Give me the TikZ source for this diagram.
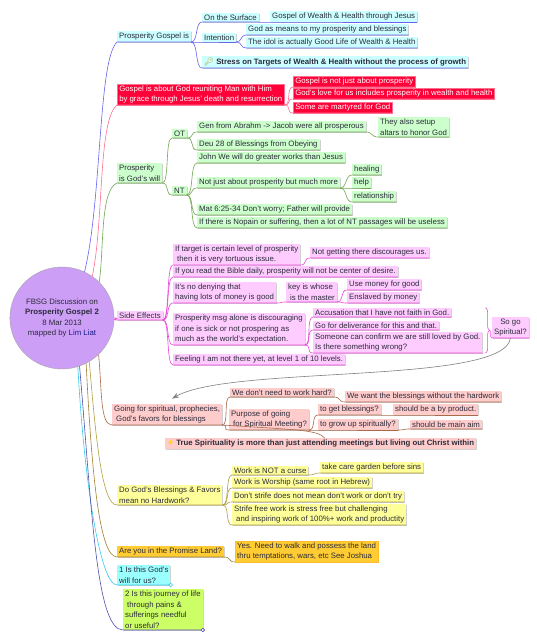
\documentclass[tikz,border=0pt]{standalone}
\usepackage{fontspec}
\setmainfont{Liberation Sans}
\newfontfamily\symfont{DejaVu Sans}
\newfontfamily\emojifont{Noto Emoji}
\usetikzlibrary{positioning,shapes.geometric,arrows.meta,decorations.pathreplacing,calc,shadows}

\definecolor{mmtext}{HTML}{2B2B3A}
\definecolor{liat}{HTML}{1A1A8C}
\definecolor{hubfill}{HTML}{CC9EF5}
\definecolor{bline}{HTML}{6464F0}
\definecolor{bbg}{HTML}{CCFFFF}
\definecolor{rline}{HTML}{FF7090}
\definecolor{rbg}{HTML}{FF0038}
\definecolor{gline}{HTML}{70A850}
\definecolor{gbg}{HTML}{CCFFCC}
\definecolor{mline}{HTML}{EE44DD}
\definecolor{mbg}{HTML}{FFCCFF}
\definecolor{brline}{HTML}{A86A4A}
\definecolor{brbg}{HTML}{FFCCCC}
\definecolor{yline}{HTML}{B0A040}
\definecolor{ybg}{HTML}{FFFF99}
\definecolor{oline}{HTML}{A08030}
\definecolor{obg}{HTML}{FFCC33}
\definecolor{cline}{HTML}{33CCEE}
\definecolor{cbg}{HTML}{99FFFF}
\definecolor{nline}{HTML}{5050A8}
\definecolor{lbg}{HTML}{CCFF66}
\definecolor{keygold}{HTML}{C89B1E}
\definecolor{stargold}{HTML}{FFD21E}

\newcommand{\mmsize}{\fontsize{7.8}{10.5}\selectfont}

\tikzset{
  mm/.style={anchor=south west, inner xsep=2pt, inner ysep=1.6pt, align=left,
    font=\mmsize, text=mmtext,
    drop shadow={shadow xshift=1pt, shadow yshift=-1pt, fill=black, opacity=0.18}},
  bnode/.style={mm, fill=bbg},
  rnode/.style={mm, fill=rbg, draw=rline, line width=0.5pt, text=white},
  gnode/.style={mm, fill=gbg},
  mnode/.style={mm, fill=mbg},
  brnode/.style={mm, fill=brbg},
  ynode/.style={mm, fill=ybg},
  onode/.style={mm, fill=obg},
  hub/.style={ellipse, draw=gray!70, fill=hubfill, minimum width=83pt,
    minimum height=102pt, inner sep=0pt, align=center, font=\mmsize, text=mmtext},
  lnk/.style={line width=0.6pt},
  bl/.style={lnk, draw=bline},
  rl/.style={lnk, draw=rline},
  gl/.style={lnk, draw=gline},
  ml/.style={lnk, draw=mline},
  brl/.style={lnk, draw=brline},
  yl/.style={lnk, draw=yline},
  ol/.style={lnk, draw=oline},
  cl/.style={lnk, draw=cline},
  nl/.style={lnk, draw=nline}
}

\begin{document}
\begin{tikzpicture}[x=1pt, y=-1pt]
  \useasboundingbox[fill=white] (0,0) rectangle (537,640);

  % centre topic
  \node[hub] (hub) at (62,318) {FBSG Discussion on\\\textbf{Prosperity Gospel 2}\\8 Mar 2013\\mapped by \textcolor{liat}{Lim Liat}};

  % blue branch
  \node[bnode] (pgi) at (117,42) {Prosperity Gospel is};
  \node[bnode] (surf) at (202,22) {On the Surface};
  \node[bnode] (gow) at (270,22) {Gospel of Wealth \& Health through Jesus};
  \node[bnode] (intn) at (202,42) {Intention};
  \node[bnode] (gmp) at (246,35) {God as means to my prosperity and blessings};
  \node[bnode] (idol) at (246,48) {The idol is actually Good Life of Wealth \& Health};
  \node[bnode] (stress) at (202,68) {{\emojifont\textcolor{keygold}{🔑}}\ \textbf{Stress on Targets of Wealth \& Health without the process of growth}};

  % red branch
  \node[rnode] (grm) at (117,105) {Gospel is about God reuniting Man with Him\\by grace through Jesus' death and resurrection};
  \node[rnode] (gnp) at (293,87) {Gospel is not just about prosperity};
  \node[rnode] (glove) at (293,99) {God's love for us includes prosperity in wealth and health};
  \node[rnode] (mart) at (293,113) {Some are martyred for God};

  % green branch
  \node[gnode] (pgw) at (117,183) {Prosperity\\is God's will};
  \node[gnode] (ot) at (172,138) {OT};
  \node[gnode] (gen) at (197,132) {Gen from Abrahm -> Jacob were all prosperous};
  \node[gnode] (alt) at (378,137) {They also setup\\altars to honor God};
  \node[gnode] (deu) at (197,150) {Deu 28 of Blessings from Obeying};
  \node[gnode] (nt) at (172,195) {NT};
  \node[gnode] (john) at (197,163) {John We will do greater works than Jesus};
  \node[gnode] (njp) at (197,188) {Not just about prosperity but much more};
  \node[gnode] (heal) at (352,175) {healing};
  \node[gnode] (help) at (352,188) {help};
  \node[gnode] (rel) at (352,202) {relationship};
  \node[gnode] (mat) at (197,215) {Mat 6:25-34 Don't worry; Father will provide};
  \node[gnode] (nop) at (197,228) {If there is Nopain or suffering, then a lot of NT passages will be useless};

  % magenta branch
  \node[mnode] (se) at (117,320) {Side Effects};
  \node[mnode] (tgt) at (173,265) {If target is certain level of prosperity\\\hspace{2pt}then it is very tortuous issue.};
  \node[mnode] (ngt) at (310,258) {Not getting there discourages us.};
  \node[mnode] (bib) at (173,277) {If you read the Bible daily, prosperity will not be center of desire.};
  \node[mnode] (deny) at (173,303) {It's no denying that\\having lots of money is good};
  \node[mnode] (key) at (286,302) {key is whose\\\hspace{2pt}is the master};
  \node[mnode] (umg) at (347,290) {Use money for good};
  \node[mnode] (ens) at (347,303) {Enslaved by money};
  \node[mnode] (msg) at (173,345) {Prosperity msg alone is discouraging\\if one is sick or not prospering as\\much as the world's expectation.};
  \node[mnode] (acc) at (313,317) {Accusation that I have not faith in God.};
  \node[mnode] (dlv) at (313,330) {Go for deliverance for this and that.};
  \node[mnode] (conf) at (313,353) {Someone can confirm we are still loved by God.\\Is there something wrong?};
  \node[mnode, align=center] (sogo) at (492,338) {So go\\Spiritual?};
  \node[mnode] (feel) at (173,365) {Feeling I am not there yet, at level 1 of 10 levels.};

  % brown branch
  \node[brnode] (gsp) at (112,425) {Going for spiritual, prophecies,\\\hspace{2pt}God's favors for blessings};
  \node[brnode] (wdn) at (230,397) {We don't need to work hard?};
  \node[brnode] (wwb) at (345,402) {We want the blessings without the hardwork};
  \node[brnode] (pur) at (229,430) {Purpose of going\\\hspace{2pt}for Spiritual Meeting?};
  \node[brnode] (tgb) at (318,415) {to get blessings?};
  \node[brnode] (byp) at (393,415) {should be a by product.};
  \node[brnode] (tgu) at (318,430) {to grow up spiritually?};
  \node[brnode] (mai) at (410,429) {should be main aim};
  \node[brnode] (tsp) at (165,449) {{\symfont\textcolor{stargold}{★}}\ \textbf{True Spirituality is more than just attending meetings but living out Christ within}};

  % yellow branch
  \node[ynode] (dgb) at (117,505) {Do God's Blessings \& Favors\\mean no Hardwork?};
  \node[ynode] (wnc) at (232,475) {Work is NOT a curse};
  \node[ynode] (tcg) at (320,473) {take care garden before sins};
  \node[ynode] (wiw) at (232,488) {Work is Worship (same root in Hebrew)};
  \node[ynode] (dsn) at (232,502) {Don't strife does not mean don't work or don't try};
  \node[ynode] (sfw) at (232,525) {Strife free work is stress free but challenging\\\hspace{2pt}and inspiring work of 100\%+ work and productity};

  % orange, cyan, lime branches
  \node[onode] (pl) at (117,557) {Are you in the Promise Land?};
  \node[onode, draw=obg!80!orange] (yes) at (235,562) {Yes. Need to walk and possess the land\\thru temptations, wars, etc See Joshua};
  \node[mm, fill=cbg] (q1) at (117,585) {1 Is this God's\\will for us?};
  \node[mm, fill=lbg] (q2) at (123,630) {2 Is this journey of life\\\hspace{2pt}through pains \&\\sufferings needful\\or useful?};

  % links from the centre
  \draw[bl] (hub.64) .. controls (102,200) and (98,60) .. (pgi.south west) -- (pgi.south east);
  \draw[rl] (hub.54) .. controls (104,220) and (98,120) .. (grm.south west) -- (grm.south east);
  \draw[gl] (hub.44) .. controls (104,250) and (100,190) .. (pgw.south west) -- (pgw.south east);
  \draw[ml] (hub.east) .. controls +(8,0) and +(-8,0) .. (se.south west) -- (se.south east);
  \draw[brl] (hub.-45) .. controls (102,390) and (100,425) .. (gsp.south west) -- (gsp.south east);
  \draw[yl] (hub.-58) .. controls (96,440) and (102,505) .. (dgb.south west) -- (dgb.south east);
  \draw[ol] (hub.-62) .. controls (92,480) and (100,557) .. (pl.south west) -- (pl.south east);
  \draw[cl] (hub.-72) .. controls (84,480) and (100,585) .. (q1.south west) -- (q1.south east);
  \draw[nl] (hub.-70) .. controls (92,510) and (96,630) .. (q2.south west) -- (q2.south east);
  \draw[cl, fill=white] (q1.south east) circle (1.8pt);
  \draw[nl, fill=white] (q2.south east) circle (1.8pt);

  % blue links
  \foreach \c in {surf,intn,stress}
    \draw[bl] (pgi.south east) .. controls +(7,0) and +(-7,0) .. (\c.south west) -- (\c.south east);
  \draw[bl] (surf.south east) .. controls +(6,0) and +(-6,0) .. (gow.south west) -- (gow.south east);
  \foreach \c in {gmp,idol}
    \draw[bl] (intn.south east) .. controls +(6,0) and +(-6,0) .. (\c.south west) -- (\c.south east);

  % red links
  \foreach \c in {gnp,glove,mart}
    \draw[rl] (grm.south east) .. controls +(7,0) and +(-7,0) .. (\c.south west) -- (\c.south east);

  % green links
  \foreach \c in {ot,nt}
    \draw[gl] (pgw.south east) .. controls +(7,0) and +(-7,0) .. (\c.south west) -- (\c.south east);
  \foreach \c in {gen,deu}
    \draw[gl] (ot.south east) .. controls +(7,0) and +(-7,0) .. (\c.south west) -- (\c.south east);
  \draw[gl] (gen.south east) .. controls +(7,0) and +(-7,0) .. (alt.south west) -- (alt.south east);
  \foreach \c in {john,njp,mat,nop}
    \draw[gl] (nt.south east) .. controls +(7,0) and +(-7,0) .. (\c.south west) -- (\c.south east);
  \foreach \c in {heal,help,rel}
    \draw[gl] (njp.south east) .. controls +(7,0) and +(-7,0) .. (\c.south west) -- (\c.south east);

  % magenta links
  \foreach \c in {tgt,bib,deny,msg,feel}
    \draw[ml] (se.south east) .. controls +(7,0) and +(-7,0) .. (\c.south west) -- (\c.south east);
  \draw[ml] (tgt.south east) .. controls +(7,0) and +(-7,0) .. (ngt.south west) -- (ngt.south east);
  \draw[ml] (deny.south east) .. controls +(7,0) and +(-7,0) .. (key.south west) -- (key.south east);
  \foreach \c in {umg,ens}
    \draw[ml] (key.south east) .. controls +(7,0) and +(-7,0) .. (\c.south west) -- (\c.south east);
  \foreach \c in {acc,dlv,conf}
    \draw[ml] (msg.south east) .. controls +(7,0) and +(-7,0) .. (\c.south west) -- (\c.south east);
  \coordinate (brtop) at ($(conf.east |- acc.north)+(3,0)$);
  \coordinate (brbot) at ($(conf.south east)+(3,0)$);
  \draw[ml, decorate, decoration={brace, amplitude=4pt}] (brtop) -- (brbot);
  \coordinate (brtip) at ($($(brtop)!0.5!(brbot)$)+(4,0)$);
  \draw[ml] (brtip) .. controls +(3,0) and +(-3,0) .. (sogo.south west) -- (sogo.south east);

  % brown links
  \foreach \c in {wdn,pur}
    \draw[brl] (gsp.south east) .. controls +(7,0) and +(-7,0) .. (\c.south west) -- (\c.south east);
  \draw[brl] (gsp.south east) .. controls (300,430) and (318,430) .. ([xshift=4pt]tsp.north);
  \draw[brl] (wdn.south east) .. controls +(7,0) and +(-7,0) .. (wwb.south west) -- (wwb.south east);
  \foreach \c in {tgb,tgu}
    \draw[brl] (pur.south east) .. controls +(7,0) and +(-7,0) .. (\c.south west) -- (\c.south east);
  \draw[brl] (tgb.south east) .. controls +(7,0) and +(-7,0) .. (byp.south west) -- (byp.south east);
  \draw[brl] (tgu.south east) .. controls +(7,0) and +(-7,0) .. (mai.south west) -- (mai.south east);

  % yellow and orange links
  \foreach \c in {wnc,wiw,dsn,sfw}
    \draw[yl] (dgb.south east) .. controls +(7,0) and +(-7,0) .. (\c.south west) -- (\c.south east);
  \draw[yl] (wnc.south east) .. controls +(7,0) and +(-7,0) .. (tcg.south west) -- (tcg.south east);
  \draw[ol] (pl.south east) .. controls +(7,0) and +(-7,0) .. (yes.south west);

  % grey arrow back to the brown branch
  \draw[gray, line width=0.6pt, -{Stealth[length=7pt, width=5pt]}] (sogo.south) .. controls (505,385) and (230,365) .. ($(gsp.north)+(5,-5)$);
\end{tikzpicture}
\end{document}
